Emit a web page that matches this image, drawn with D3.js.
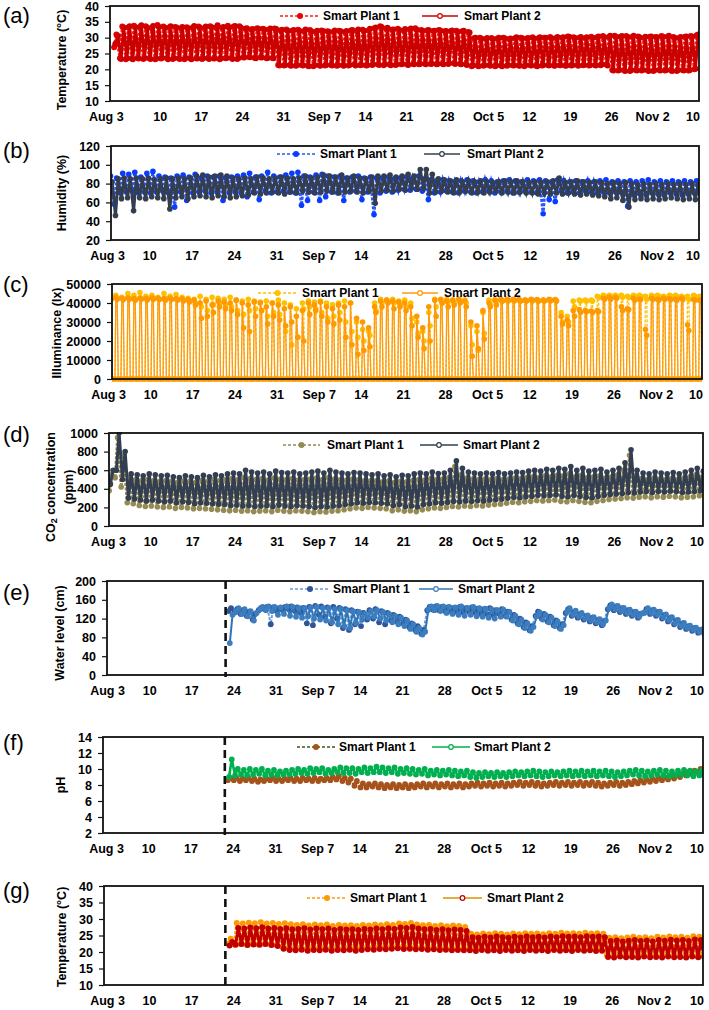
<!DOCTYPE html>
<html><head><meta charset="utf-8">
<script src="https://cdn.jsdelivr.net/npm/d3@7"></script>
<style>body{margin:0;background:#fff}svg text{font-family:"Liberation Sans",Arial,sans-serif}</style>
</head><body><svg id="chart" width="709" height="1010"></svg>
<script>
// ---------- shared axis data ----------
const tickDays = [0,7,14,21,28,35,42,49,56,63,70,77,84,91,99];
const tickLabels = ["Aug 3","10","17","24","31","Sep 7","14","21","28","Oct 5","12","19","26","Nov 2","10"];
const seriesNames = ["Smart Plant 1","Smart Plant 2"];
const FULL_START = -1;     // panels a-d: first daily reading is Aug 2
const NUTRIENT_START = 20; // panels e-g: first daily reading is Aug 23
const INSTALL_DAY = 19.7;  // dashed marker line
const NIGHT_LUX = 0;

// ---------- (a) air temperature, daily max / min ----------
const aP1max=[31,33.5,33.2,33.8,33.4,33.6,33,34,33.5,33.2,33.4,33,33.3,33.1,33.5,33,33.6,33.2,33.1,33.8,33.5,33.6,32.8,32.6,33,32.8,32.5,32.9,
32.3,32.6,32.2,32.5,32,32.4,31.8,32.3,32,31.8,32.2,31.8,32.3,32,32.5,32.3,33,33.6,32.8,32.5,32.8,32.2,32.6,33,32.4,32.3,32.1,32.4,32,32,32.2,32,31.8,
29.8,30,29.6,29.9,29.7,30,29.6,29.8,30,29.7,30.1,29.8,30,30.2,29.9,30,30.4,30.1,30,29.8,30.3,30.1,30.5,30.2,
30.6,30.3,30.5,30.2,30.4,29.9,30.3,30.2,30.5,30.3,30.2,29.9,30.3,30.5,30.8];
const aP1min=[27,23.5,23.2,23.4,23.6,23.3,23.5,23.2,23.4,23.6,23.3,23.5,23.2,23.4,23.5,23.3,23.6,23.4,23.2,23.5,23.6,23.3,23.8,23.9,23.6,23.8,23.5,23.6,
21.4,21.2,21.3,21.1,21.4,21.2,21,21.3,21.2,21.4,21.1,21.3,21.2,21.5,21.3,21.2,21.4,21.6,21.3,21.5,21.4,21.6,21.5,21.7,21.6,21.8,21.7,21.6,21.8,21.7,21.9,21.8,21.6,
21,21.2,21.1,21.3,21,21.2,21.1,21.3,21.2,21,21.3,21.1,21.2,21.4,21.2,21.3,21.1,21.2,21.4,21.3,21.2,21.4,21.3,21.5,
19.8,19.6,19.7,19.5,19.8,19.6,19.7,19.5,19.8,19.6,19.7,19.5,19.8,19.6,20];
const aP2max=[30.5,33.2,33.6,33.3,33.9,33.2,33.7,33.4,33.1,33.6,33.2,33.4,33,33.7,33.2,33.5,33.3,33.9,33.4,33.2,33.7,33.1,33,32.7,32.8,32.6,32.9,32.7,
32.5,32.2,32.4,32.1,32.6,32,32.2,32.1,31.9,32.3,32,32.1,32.4,32.6,32.2,32.8,33.2,33.4,33.1,32.6,32.4,32.7,32.9,32.5,32.2,32.4,32.2,32.3,32.1,32.3,31.9,32.2,31.6,
30,29.7,29.9,29.6,30,29.8,29.7,30.1,29.8,29.9,29.7,30.1,30,29.8,30.2,30.1,30.3,29.9,30.2,30.1,30,30.4,30.1,30.6,
30.3,30.5,30.2,30.6,30.1,30.3,30.4,30.1,30.3,30.6,30,30.2,30.4,30.3,31];
const aP2min=[28,23.3,23.5,23.2,23.4,23.6,23.3,23.4,23.6,23.2,23.5,23.3,23.6,23.2,23.4,23.5,23.3,23.5,23.4,23.6,23.3,23.5,23.7,23.8,23.5,23.7,23.6,23.5,
21.2,21.4,21.1,21.3,21.2,21,21.3,21.1,21.4,21.2,21.3,21.1,21.4,21.2,21.4,21.3,21.5,21.4,21.6,21.3,21.5,21.7,21.4,21.6,21.7,21.6,21.8,21.7,21.6,21.9,21.7,21.6,21.4,
21.2,21,21.3,21.1,21.2,21,21.3,21.2,21.1,21.3,21.2,21,21.3,21.2,21.1,21.3,21.2,21.3,21.1,21.4,21.3,21.2,21.5,21.2,
19.6,19.8,19.5,19.7,19.6,19.8,19.5,19.7,19.6,19.8,19.5,19.7,19.6,19.7,20.2];

// ---------- (b) humidity ----------
const bP1max=[80,88,86,91,90,92,87,91,93,88,87,86,88,89,87,90,86,88,87,88,86,87,88,
89,91,87,88,92,88,87,89,91,92,88,87,89,90,88,87,88,86,87,88,86,87,86,
86,87,85,86,87,86,88,85,84,83,84,83,82,83,84,83,82,84,83,82,83,84,83,82,84,
83,84,83,82,84,83,82,83,82,83,82,83,84,82,83,82,83,82,83,84,82,83,82,83,82,83,82,83,81];
const bP1min=[74,60,58,70,71,72,70,71,70,71,72,70,55,71,62,70,71,72,70,71,62,70,71,
70,66,71,63,72,70,71,72,71,70,57,62,71,62,66,71,70,62,71,72,63,71,47,
70,72,71,73,74,73,74,72,63,70,71,72,71,70,72,71,70,71,72,70,71,72,70,71,72,
71,70,48,63,61,72,70,71,70,72,71,70,71,70,71,70,56,68,69,68,70,69,68,70,69,68,69,70,69];
const bP2max=[78,82,85,86,85,86,85,86,84,85,86,85,86,85,86,88,89,87,88,89,88,86,85,
86,85,87,86,85,86,87,86,85,86,88,86,87,89,88,87,89,86,88,86,85,87,88,
88,89,87,88,90,88,95,95,90,85,84,83,84,82,83,82,83,82,81,82,83,82,83,82,81,
82,81,82,83,86,81,82,83,82,81,82,81,80,81,80,81,80,79,80,79,80,79,80,79,80,79,80,79,78];
const bP2min=[76,70,46,64,65,51,65,64,66,65,64,53,65,66,64,66,67,66,65,67,66,65,66,
67,68,70,69,70,71,70,69,71,70,72,71,70,71,72,71,70,71,72,71,70,72,59,
72,73,72,74,73,75,74,75,70,71,72,71,70,71,72,70,71,70,71,72,70,71,70,71,70,
70,69,70,69,70,69,70,69,68,69,68,67,66,64,65,62,55,63,64,63,64,63,64,65,64,63,64,63,62];

// ---------- (c) illuminance: two daytime readings per day (night = 0) ----------
const cP1hi=[42000,43000,44000,43000,45000,44000,45500,43500,44000,43000,45000,43500,44500,43000,42500,
42000,43500,42000,43000,42500,42000,43000,41500,41000,42000,41000,40500,41000,40000,41500,
40000,39000,37000,40000,41000,40500,41000,40000,39000,40000,41000,40000,30000,26000,25000,
40000,42000,41500,42000,41000,41500,40000,30000,25000,35000,42000,41500,42000,41500,42000,
41500,28000,25000,35000,41500,41500,41500,41500,41500,41500,41500,41500,41500,41500,41500,
41500,35000,33000,41000,41500,41500,41500,43500,44000,44000,44000,44000,43500,44000,44000,
43500,44000,44000,43500,44000,44000,43500,43500,44000,43500];
const cP1lo=[41500,42000,42500,42000,42500,42000,42500,42000,42500,42000,42500,42000,42000,41500,41000,
40000,38000,36000,39000,40000,39000,38000,36000,34000,36000,37000,36000,33000,35000,34000,
25000,18000,22000,37000,38000,37000,35000,32000,33000,35000,30000,25000,22000,20000,23000,
36000,40000,40500,40000,39000,38000,32000,24000,20000,28000,38000,40000,40500,40000,41000,
40000,18000,15000,24000,39000,41000,41000,41000,41000,41000,41000,41000,41000,41000,41000,
41000,30000,30000,38000,41000,41000,41000,43000,43500,43500,43500,43000,43000,43500,43500,
42000,43500,43500,43000,43500,43500,43000,42000,43500,43000];
const cP2hi=[42000,42500,43000,42500,42800,42300,42600,42400,42800,42500,42300,42600,42400,42200,41800,
41500,40000,41000,39000,41000,40500,40000,41500,40000,39000,40500,40000,38000,40000,39000,
37000,38000,33000,36000,40000,39000,40500,38000,37000,39000,38000,40000,32000,30000,27000,
38000,41000,41500,41000,40500,40000,38000,33000,27000,38000,41500,42000,41000,41500,42000,
41000,30000,28000,36000,40000,41500,42000,41800,42000,41800,41500,42000,41800,41600,42000,
41800,33000,31000,36000,36500,36000,35800,36000,42500,43000,43000,38000,37000,42500,42000,
26000,42500,42000,42500,42300,42000,42500,28500,41800,41500];
const cP2lo=[41500,42000,42000,41800,42000,41500,42000,41600,42000,41800,41500,41800,41500,41000,40500,
39000,32000,33000,35000,38000,37000,36000,34000,27000,25000,33000,36000,29000,33000,31000,
28000,30000,22000,20000,34000,36000,33000,30000,29000,31000,22000,18000,13000,15000,17000,
35000,38000,40000,37000,38000,36000,28000,22000,16000,20000,33000,40000,38000,39000,40000,
38000,12000,16000,21000,38000,39000,41000,41500,41500,41000,41200,41500,41000,41200,41500,
41000,29000,28000,33000,35000,35500,35000,35500,42000,42000,42500,36000,36500,41500,41800,
23000,42000,41500,42000,41800,41500,41800,25500,41500,41000];

// ---------- (d) CO2 ----------
const dP1max=[500,550,950,760,520,500,490,500,490,480,
490,480,470,485,480,470,490,480,500,490,500,510,500,520,510,
500,510,495,515,505,500,510,495,500,505,515,500,520,505,500,495,505,500,490,485,
490,475,485,470,480,475,490,500,495,510,500,505,520,640,550,515,505,500,505,500,
510,500,505,515,510,520,530,520,540,530,545,540,560,530,545,520,530,540,515,530,
550,600,760,540,510,500,515,505,500,510,500,515,530,550,525];
const dP1min=[420,380,520,420,250,240,220,210,215,205,
200,205,190,200,195,185,190,185,180,175,170,165,170,160,165,
155,160,165,155,170,160,155,165,160,155,145,155,150,160,165,175,185,195,190,200,
195,190,185,165,175,160,165,155,175,185,195,190,200,210,205,215,210,220,215,225,
230,235,245,255,250,260,265,275,270,275,280,265,260,275,265,255,250,265,275,285,
290,295,305,300,310,315,305,315,310,320,315,305,310,315,325];
const dP2max=[560,600,1000,800,560,550,540,560,550,540,
545,530,520,540,530,520,545,530,550,540,560,570,560,600,580,
570,580,560,590,575,570,580,560,570,580,590,570,600,580,570,560,575,570,560,550,
560,540,550,530,545,540,560,570,560,580,565,570,600,700,620,580,570,560,570,560,
575,560,570,580,575,590,600,590,610,600,620,610,640,600,620,590,600,610,580,600,
620,680,820,600,570,560,580,570,560,575,560,580,600,620,590];
const dP2min=[480,450,600,500,300,290,280,270,280,270,
260,270,250,260,255,240,250,245,240,235,230,220,225,215,220,
210,215,220,210,225,215,210,220,215,210,200,210,205,215,220,230,240,250,245,255,
250,245,240,220,230,210,215,205,230,240,250,245,255,265,260,270,265,275,270,280,
285,290,300,310,305,315,320,330,325,330,335,320,315,330,320,310,305,320,330,340,
345,350,360,355,365,370,360,370,365,375,370,360,365,370,380];

// ---------- (e) water level (from Aug 23) ----------
const eP1max=[142,140,138,135,130,
143,145,144,142,145,146,144,143,145,147,146,144,145,143,140,138,
135,132,138,140,136,132,128,124,118,110,104,96,
145,146,145,144,143,145,142,144,141,140,142,138,140,
135,128,120,112,104,135,130,
124,116,108,140,135,130,126,122,118,115,
148,146,142,138,134,130,140,
138,134,128,122,116,110,104,100,96,92];
const eP1min=[136,133,130,126,118,
138,140,108,136,138,140,136,132,110,106,128,124,110,120,100,96,
108,104,118,120,112,108,116,114,110,102,96,88,
138,139,138,136,135,134,133,134,132,130,129,127,130,
126,118,110,102,95,126,120,
114,106,100,132,126,122,118,114,110,106,
140,138,134,130,126,122,132,
130,126,120,114,108,102,98,94,90,88];
const eP2max=[128,142,140,136,132,
145,146,145,144,146,145,143,142,144,145,143,142,140,141,138,136,
134,130,136,138,134,130,126,122,116,108,100,92,
146,147,146,145,144,146,143,145,142,141,140,138,139,
134,126,118,110,102,133,128,
122,114,106,142,137,132,127,123,119,116,
150,147,143,139,135,131,142,
139,135,129,123,117,111,105,101,97,93];
const eP2min=[68,134,130,125,116,
140,138,136,128,130,126,124,122,125,120,118,116,112,108,104,100,
110,118,122,124,120,116,112,108,104,98,92,86,
139,138,136,132,130,128,126,128,125,124,122,120,124,
124,116,108,100,94,125,118,
112,104,98,134,128,124,120,116,112,108,
142,140,136,132,128,124,134,
132,128,122,116,110,104,100,96,92,89];

// ---------- (f) pH (from Aug 23) ----------
const fP1max=[8.9,8.9,8.8,8.9,8.8,8.7,8.8,8.9,8.8,8.8,8.9,8.8,8.9,8.8,8.9,8.8,8.9,9.0,9.1,8.9,
8.8,8.5,8.2,8.1,8.2,8.1,8.0,8.1,8.0,8.1,8.0,8.1,8.2,8.1,8.2,8.1,8.2,8.1,8.2,8.1,
8.2,8.3,8.2,8.3,8.2,8.3,8.2,8.3,8.4,8.3,8.4,8.3,8.2,8.3,8.4,8.3,8.4,8.3,8.4,8.3,
8.4,8.3,8.2,8.3,8.4,8.3,8.4,8.5,8.6,8.7,8.8,8.9,9.0,9.1,9.2,9.4,9.6,9.8,10.0,9.8];
const fP1min=[8.6,8.6,8.5,8.6,8.5,8.4,8.5,8.6,8.5,8.5,8.6,8.5,8.5,8.6,8.5,8.5,8.6,8.6,8.7,8.5,
8.3,7.9,7.7,7.7,7.8,7.7,7.6,7.7,7.6,7.7,7.6,7.7,7.8,7.7,7.8,7.7,7.8,7.7,7.8,7.7,
7.8,7.9,7.8,7.9,7.8,7.9,7.8,7.9,8.0,7.9,8.0,7.9,7.8,7.9,8.0,7.9,8.0,7.9,8.0,7.9,
8.0,7.9,7.8,7.9,8.0,7.9,8.0,8.1,8.2,8.3,8.4,8.5,8.6,8.7,8.8,9.0,9.2,9.4,9.5,9.4];
const fP2max=[11.2,10.0,9.9,10.0,9.9,10.0,9.8,9.9,9.7,9.8,9.9,10.0,9.9,10.1,10.0,10.1,9.9,10.0,10.2,10.1,
10.1,10.0,10.2,10.1,10.3,10.2,10.1,10.2,10.0,10.1,10.0,9.9,10.0,9.8,9.9,9.8,9.9,9.8,9.7,9.8,
9.6,9.5,9.6,9.5,9.6,9.5,9.6,9.7,9.6,9.7,9.8,9.7,9.6,9.7,9.6,9.7,9.8,9.7,9.8,9.7,
9.8,9.7,9.8,9.7,9.6,9.7,9.8,9.9,9.8,9.7,9.8,9.9,9.8,9.7,9.8,9.9,9.8,9.7,9.8,9.9];
const fP2min=[9.0,9.2,9.3,9.2,9.3,9.4,9.2,9.3,9.2,9.3,9.3,9.4,9.5,9.4,9.5,9.6,9.4,9.5,9.6,9.5,
9.5,9.4,9.6,9.5,9.6,9.6,9.5,9.6,9.4,9.5,9.4,9.3,9.4,9.2,9.3,9.2,9.3,9.2,9.1,9.2,
9.0,8.9,9.0,9.1,9.0,9.1,9.0,9.1,9.2,9.1,9.2,9.1,9.0,9.1,9.2,9.1,9.2,9.1,9.2,9.1,
9.2,9.1,9.2,9.1,9.0,9.1,9.2,9.3,9.2,9.1,9.2,9.3,9.2,9.1,9.2,9.3,9.2,9.1,9.2,9.3];

// ---------- (g) nutrient solution temperature (from Aug 23) ----------
const gP1max=[24,28.8,28.6,28.9,28.7,29,28.6,28.8,28.5,28.7,28.4,
28.2,28.4,28,28.3,28.1,28.3,27.9,28.2,28,28.1,27.9,28.2,28,28.3,28.1,28.4,28.2,28.6,28.5,28.8,28.3,28.1,28.2,27.9,28.1,27.8,28,27.9,27.6,
25.5,25.3,25.6,25.4,25.7,25.5,25.3,25.6,25.4,25.7,25.5,25.6,25.4,25.7,25.5,25.8,25.6,25.7,25.5,25.8,25.6,25.7,25.5,
24.3,24.5,24.2,24.4,24.6,24.3,24.5,24.2,24.6,24.4,24.7,24.5,24.6,24.3,24.8,24.6,24.2];
const gP1min=[22.5,22.3,22.4,22.2,22.5,22.3,22.4,22.2,22.1,21.5,21.2,
21,21.2,20.9,21.1,21,21.2,20.9,21.1,21,21.2,20.9,21.1,21.3,21.2,21.4,21.3,21.5,21.6,21.4,21.5,21.3,21.4,21.2,21.3,21.1,21.2,21,21.1,21,
21,20.8,21.1,20.9,21,20.8,21.1,20.9,21,20.8,21.1,20.9,21,20.8,21.1,20.9,21,20.8,21.1,20.9,21,20.8,20.9,
19,18.8,19.1,18.9,19,18.8,19.1,18.9,19,18.8,19.1,18.9,19,18.8,19.1,18.9,19];
const gP2max=[23,27.3,27.1,27.4,27.2,27.5,27.1,27.3,27,27.2,26.9,
27,27.2,26.8,27.1,26.9,27.1,26.7,27,26.8,26.9,26.7,27,26.8,27.1,26.9,27.2,27,27.4,27.3,27.6,27.1,26.9,27,26.7,26.9,26.6,26.8,26.7,26.4,
24.5,24.3,24.6,24.4,24.7,24.5,24.3,24.6,24.4,24.7,24.5,24.6,24.4,24.7,24.5,24.8,24.6,24.7,24.5,24.8,24.6,24.7,24.5,
23.3,23.5,23.2,23.4,23.6,23.3,23.5,23.2,23.6,23.4,23.7,23.5,23.6,23.3,23.8,23.6,23.2];
const gP2min=[22,22.2,22.4,22.1,22.3,22.2,22.4,22.1,21.8,21,20.6,
20.5,20.7,20.4,20.6,20.5,20.7,20.4,20.6,20.5,20.7,20.4,20.6,20.8,20.7,20.9,20.8,21,21.1,20.9,21,20.8,20.9,20.7,20.8,20.6,20.7,20.5,20.6,20.5,
20.5,20.3,20.6,20.4,20.5,20.3,20.6,20.4,20.5,20.3,20.6,20.4,20.5,20.3,20.6,20.4,20.5,20.3,20.6,20.4,20.5,20.3,20.4,
18.5,18.3,18.6,18.4,18.5,18.3,18.6,18.4,18.5,18.3,18.6,18.4,18.5,18.3,18.6,18.4,18.5];

// ---------- point builders (fixed reading times within each day) ----------
function zig(start, mins, maxs, tMin, tMax){
  const pts=[];
  mins.forEach((v,i)=>{ pts.push([start+i+tMin, v]); pts.push([start+i+tMax, maxs[i]]); });
  return pts;
}
function lux(start, his, los){
  const pts=[];
  his.forEach((v,i)=>{ const d=start+i; pts.push([d+0.15,NIGHT_LUX],[d+0.3,v],[d+0.52,los[i]],[d+0.7,NIGHT_LUX]); });
  return pts;
}

// ---------- panel configuration ----------
const panels=[
 {key:"(a)", top:6,bottom:101,left:110,right:699,dom:[-1.5,99],yDom:[10,40],yTicks:[10,15,20,25,30,35,40],
  title:["Temperature (°C)"],titleX:[62],titleY:60,labelY:23,legY:16,firstDx:-13,lw:3,r:3,
  series:[{pts:zig(FULL_START,aP1min,aP1max,0.2,0.6),line:"#FF1A1A",mark:"#E60000",dash:true,leg:[280,320,323]},
          {pts:zig(FULL_START,aP2min,aP2max,0.4,0.85),line:"#C80000",mark:"#CC0000",dash:false,leg:[422,458,464]}]},
 {key:"(b)", top:146,bottom:240,left:111,right:699,dom:[0.66,98],yDom:[20,120],yTicks:[20,40,60,80,100,120],
  title:["Humidity (%)"],titleX:[62],titleY:193,labelY:158,legY:154,firstDx:0,lw:3,r:2.8,
  series:[{pts:zig(FULL_START,bP1min,bP1max,0.2,0.6),line:"#2A55FF",mark:"#0A3CFF",dash:true,leg:[277,315,320]},
          {pts:zig(FULL_START,bP2min,bP2max,0.4,0.85),line:"#333F50",mark:"#333F50",dash:false,leg:[424,460,467]}]},
 {key:"(c)", top:284,bottom:379,left:112,right:702,dom:[0.66,98.7],yDom:[0,50000],yTicks:[0,10000,20000,30000,40000,50000],
  title:["Illuminance (lx)"],titleX:[57],titleY:333,labelY:292,legY:293,firstDx:0,lw:1.3,r:2.8,
  series:[{pts:lux(FULL_START,cP1hi,cP1lo),line:"#FFC000",mark:"#FFC000",dash:true,leg:[258,297,302]},
          {pts:lux(FULL_START,cP2hi,cP2lo),line:"#FF9A10",mark:"#FF9900",dash:false,leg:[402,438,444]}]},
 {key:"(d)", top:433,bottom:526,left:109,right:703,dom:[0.17,98.8],yDom:[0,1000],yTicks:[0,200,400,600,800,1000],
  title:["CO2 concentration","(ppm)"],titleX:[51,69],titleY:487,labelY:442,legY:445,firstDx:0,lw:3,r:2.8,
  series:[{pts:zig(FULL_START,dP1min,dP1max,0.2,0.6),line:"#948A54",mark:"#948A54",dash:true,leg:[283,320,327]},
          {pts:zig(FULL_START,dP2min,dP2max,0.4,0.85),line:"#333F50",mark:"#333F50",dash:false,leg:[420,458,463]}]},
 {key:"(e)", top:581,bottom:675,left:107,right:703,dom:[0,99],yDom:[0,200],yTicks:[0,40,80,120,160,200],
  title:["Water level (cm)"],titleX:[60],titleY:633,labelY:600,legY:589,firstDx:0,install:true,lw:2,r:2.9,
  series:[{pts:zig(NUTRIENT_START,eP1min,eP1max,0.2,0.6),line:"#6A9BD8",mark:"#2F5597",dash:true,leg:[290,330,333]},
          {pts:zig(NUTRIENT_START,eP2min,eP2max,0.4,0.85),line:"#2E75B6",mark:"#3C7DC0",dash:false,leg:[419,453,458]}]},
 {key:"(f)", top:737,bottom:833,left:103,right:703,dom:[-0.5,99],yDom:[2,14],yTicks:[2,4,6,8,10,12,14],
  title:["pH"],titleX:[61],titleY:785,labelY:750,legY:747,firstDx:0,install:true,lw:2.6,r:2.9,
  series:[{pts:zig(NUTRIENT_START,fP1min,fP1max,0.2,0.6),line:"#9C4A14",mark:"#A5521B",dash:true,legLine:"#385723",leg:[297,335,339]},
          {pts:zig(NUTRIENT_START,fP2min,fP2max,0.4,0.85),line:"#00B050",mark:"#00B050",dash:false,leg:[432,470,474]}]},
 {key:"(g)", top:886,bottom:985,left:104,right:703,dom:[-0.5,99.2],yDom:[10,40],yTicks:[10,15,20,25,30,35,40],
  title:["Temperature (°C)"],titleX:[62],titleY:937,labelY:898,legY:898,firstDx:0,install:true,lw:3,r:3,
  series:[{pts:zig(NUTRIENT_START,gP1min,gP1max,0.2,0.6),line:"#FF9900",mark:"#FF9900",dash:true,leg:[307,347,350]},
          {pts:zig(NUTRIENT_START,gP2min,gP2max,0.4,0.85),line:"#C00000",mark:"#C00000",dash:false,legLine:"#DB9200",leg:[443,482,487]}]}
];

const svg=d3.select("#chart");
const FONT='"Liberation Sans",Arial,sans-serif';

panels.forEach((p,pi)=>{
  const x=d3.scaleLinear().domain(p.dom).range([p.left,p.right]);
  const y=d3.scaleLinear().domain(p.yDom).range([p.bottom,p.top]);
  const g=svg.append("g");
  const clipId="clip"+pi;
  svg.append("clipPath").attr("id",clipId).append("rect")
     .attr("x",p.left).attr("y",p.top-1).attr("width",p.right-p.left).attr("height",p.bottom-p.top+4);

  const plot=g.append("g").attr("clip-path",`url(#${clipId})`);
  const line=d3.line().x(d=>x(d[0])).y(d=>y(d[1]));
  p.series.forEach((s,si)=>{
    plot.append("path").datum(s.pts).attr("d",line).attr("fill","none")
      .attr("stroke",s.line).attr("stroke-width",p.lw)
      .attr("stroke-dasharray",s.dash?"3,1.5":null);
    plot.append("g").selectAll("circle").data(s.pts).join("circle")
      .attr("cx",d=>x(d[0])).attr("cy",d=>y(d[1]))
      .attr("r",p.r).attr("fill",s.mark);
  });

  if(p.install){
    g.append("line").attr("x1",x(INSTALL_DAY)).attr("x2",x(INSTALL_DAY))
      .attr("y1",p.top).attr("y2",p.bottom+2).attr("stroke","#111")
      .attr("stroke-width",2.6).attr("stroke-dasharray","8,5");
  }

  // frame
  g.append("rect").attr("x",p.left).attr("y",p.top).attr("width",p.right-p.left).attr("height",p.bottom-p.top)
    .attr("fill","none").attr("stroke","#111").attr("stroke-width",1.8);

  // y axis
  const ya=g.append("g").attr("transform",`translate(${p.left},0)`)
    .call(d3.axisLeft(y).tickValues(p.yTicks).tickFormat(d3.format("d")).tickSize(5).tickPadding(6).tickSizeOuter(0));
  ya.select(".domain").remove();
  ya.selectAll("line").attr("stroke","#111").attr("stroke-width",1.2);
  ya.selectAll("text").attr("font-family",FONT).attr("font-size",12.5).attr("font-weight","bold").attr("fill","#000");

  // x axis
  const xa=g.append("g").attr("transform",`translate(0,${p.bottom})`)
    .call(d3.axisBottom(x).tickValues(tickDays).tickFormat((d,i)=>tickLabels[i]).tickSize(0).tickPadding(11));
  xa.select(".domain").remove();
  xa.selectAll("text").attr("font-family",FONT).attr("font-size",12.5).attr("font-weight","bold").attr("fill","#000");
  const ticks=xa.selectAll(".tick").nodes();
  d3.select(ticks[ticks.length-1]).attr("transform",`translate(${Math.min(x(99),p.right-6)},0)`);
  d3.select(ticks[0]).select("text").attr("dx",p.firstDx);

  // titles
  p.title.forEach((t,ti)=>{
    const tx=g.append("text").attr("transform",`translate(${p.titleX[ti]},${p.titleY}) rotate(-90)`)
      .attr("text-anchor","middle").attr("dominant-baseline","central")
      .attr("font-family",FONT).attr("font-size",12.5).attr("font-weight","bold");
    if(t.startsWith("CO2")){
      tx.append("tspan").text("CO");
      tx.append("tspan").text("2").attr("font-size",9).attr("dy",3);
      tx.append("tspan").text(" concentration").attr("dy",-3);
    } else tx.text(t);
  });

  // panel label
  g.append("text").attr("x",3).attr("y",p.labelY).attr("font-family",FONT).attr("font-size",22).text(p.key);

  // legend
  p.series.forEach((s,si)=>{
    const [x1,x2,tx]=s.leg;
    g.append("line").attr("x1",x1).attr("x2",x2).attr("y1",p.legY).attr("y2",p.legY)
      .attr("stroke",s.legLine||s.line).attr("stroke-width",1.5).attr("stroke-dasharray",s.dash?"3,2":null);
    g.append("circle").attr("cx",(x1+x2)/2).attr("cy",p.legY).attr("r",si===0?3:2.3)
      .attr("fill",si===0?s.mark:"#fff").attr("stroke",si===0?"none":s.mark).attr("stroke-width",1.2);
    g.append("text").attr("x",tx).attr("y",p.legY+4.4).attr("font-family",FONT)
      .attr("font-size",12).attr("font-weight","bold").text(seriesNames[si]);
  });
});
</script></body></html>
